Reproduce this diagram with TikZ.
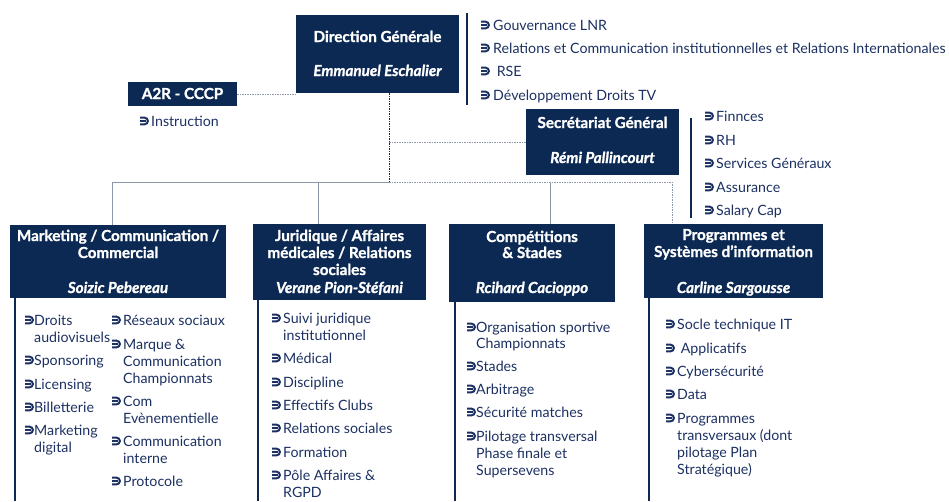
\documentclass[tikz,border=0pt]{standalone}
\usepackage{fontspec}
\setmainfont{Lato}
\newfontfamily\headfont{Lato}[FakeBold=1.2]
\definecolor{navy}{RGB}{12,41,84}
\definecolor{ink}{RGB}{28,48,98}
\definecolor{linkgray}{RGB}{140,152,170}
\tikzset{
	box/.style={fill=navy, draw=none, anchor=north west, inner sep=0pt},
	title/.style={text=white, inner sep=0pt, anchor=base, font=\headfont\fontsize{15.2}{17}\selectfont\bfseries},
	boss/.style={title, font=\headfont\fontsize{15.2}{17}\selectfont\bfseries\itshape},
	item/.style={text=ink, inner sep=0pt, anchor=base west, font=\fontsize{14.2}{16}\selectfont},
	vbar/.style={navy, line width=2.6pt},
	link/.style={linkgray, line width=0.9pt},
	dashlink/.style={link, dash pattern=on 1.5pt off 1pt},
	hook/.pic={
		\draw[ink, line width=2pt] (0,-3.3) -- (4.6,-3.3) arc[start angle=-90, end angle=90, radius=3.3] -- (0,3.3);
		\draw[ink, line width=1.8pt] (0,0) -- (5.8,0);
	}
}
\begin{document}
\begin{tikzpicture}[x=1pt,y=-1pt]
	\useasboundingbox (0,0) rectangle (949,501);
	\node[box, minimum width=163, minimum height=78] (dg) at (296,15) {};
	\node[box, minimum width=109, minimum height=24] (a2r) at (128,82) {};
	\node[box, minimum width=153, minimum height=66] (sg) at (526,109) {};
	\node[box, minimum width=216, minimum height=73] (mkt) at (10,225) {};
	\node[box, minimum width=173, minimum height=76] (jur) at (253,224) {};
	\node[box, minimum width=166, minimum height=78] (comp) at (449,224) {};
	\node[box, minimum width=179, minimum height=74] (prog) at (644,224) {};

	\node[title] (dgt) at (377.5,42) {Direction Générale};
	\node[boss] (dgn) at (377.5,76) {Emmanuel Eschalier};
	\node[title] (a2rt) at (182.5,99) {A2R - CCCP};
	\node[title] (sgt) at (602.5,128) {Secrétariat Général};
	\node[boss] (sgn) at (602.5,163) {Rémi Pallincourt};
	\node[title] (mktt) at (118,241) {Marketing / Communication /};
	\node[title] (mktu) at (118,258) {Commercial};
	\node[boss] (mktn) at (118,293) {Soizic Pebereau};
	\node[title] (jurt) at (339.5,241) {Juridique / Affaires};
	\node[title] (juru) at (339.5,258) {médicales / Relations};
	\node[title] (jurv) at (339.5,275) {sociales};
	\node[boss] (jurn) at (339.5,293) {Verane Pion-Stéfani};
	\node[title] (compt) at (532,242) {Compétitions};
	\node[title] (compu) at (532,258) {\& Stades};
	\node[boss] (compn) at (532,293) {Rcihard Cacioppo};
	\node[title] (progt) at (733.5,240) {Programmes et};
	\node[title] (progu) at (733.5,257) {Systèmes d’information};
	\node[boss] (progn) at (733.5,293) {Carline Sargousse};

	\coordinate (hub) at (389,182);
	\coordinate (tmkt) at (112,182);
	\coordinate (tjur) at (318,182);
	\coordinate (tcomp) at (550,182);
	\coordinate (tprog) at (672,182);
	\draw[dashlink, navy] (dg.south -| hub) -- (hub);
	\draw[dashlink] (a2r.east) -- (a2r.east -| dg.west);
	\draw[dashlink] (hub |- sg.west) -- (sg.west);
	\draw[link] (hub) -- (tmkt) -- (tmkt |- mkt.north);
	\draw[link] (tjur) -- (tjur |- jur.north);
	\draw[link] (tcomp) -- (tcomp |- comp.north);
	\draw[dashlink] (hub) -- (tprog) -- (tprog |- prog.north);

	\draw[vbar] (467,13) -- (467,105);
	\draw[vbar] (691,118) -- (691,218);
	\foreach \x/\y in {15/298, 258/300, 455/302, 649/298}
	\draw[vbar] (\x,\y) -- (\x,501);

	\foreach \y/\t [count=\i] in {25/Gouvernance LNR, 48/Relations et Communication institutionnelles et Relations Internationales, 71/\ RSE, 95/Développement Droits TV}
	\node[item] (dg\i) at (493,\y+5) {\t};
	\foreach \y in {25,48,71,95}
	\pic at (481,\y) {hook};

	\node[item] (a2r1) at (151,126) {Instruction};
	\pic at (140,121) {hook};

	\foreach \y/\t [count=\i] in {116/Finnces, 140/RH, 163/Services Généraux, 187/Assurance, 210/Salary Cap}
	{\node[item] (sg\i) at (716,\y+5) {\t};
	\pic at (705,\y) {hook};}

	\foreach \y/\t [count=\i] in {320/Droits, 337/audiovisuels, 360/Sponsoring, 384/Licensing, 407/Billetterie, 430/Marketing, 447/digital}
	\node[item] (mka\i) at (34,\y+5) {\t};
	\foreach \y/\t [count=\i] in {320/Réseaux sociaux, 344/Marque \&, 361/Communication, 378/Championnats, 401/Com, 418/Evènementielle, 441/Communication, 458/interne, 481/Protocole}
	\node[item, fill=white] (mkb\i) at (123,\y+5) {\t};
	\foreach \y in {320,360,384,407,430}
	\pic at (25,\y) {hook};
	\foreach \y in {320,344,401,441,481}
	\pic at (112,\y) {hook};

	\foreach \y/\t [count=\i] in {318/Suivi juridique, 335/institutionnel, 358/Médical, 382/Discipline, 405/Effectifs Clubs, 428/Relations sociales, 452/Formation, 475/Pôle Affaires \&, 492/RGPD}
	\node[item] (jur\i) at (283,\y+5) {\t};
	\foreach \y in {318,358,382,405,428,452,475}
	\pic at (272,\y) {hook};

	\foreach \y/\t [count=\i] in {327/Organisation sportive, 343/Championnats, 366/Stades, 389/Arbitrage, 412/Sécurité matches, 436/Pilotage transversal, 453/Phase finale et, 470/Supersevens}
	\node[item] (comp\i) at (476,\y+5) {\t};
	\foreach \y in {327,366,389,412,436}
	\pic at (467,\y) {hook};

	\foreach \y/\t [count=\i] in {324/Socle technique IT, 348/\ Applicatifs, 371/Cybersécurité, 394/Data, 418/Programmes, 435/transversaux (dont, 452/pilotage Plan, 469/Stratégique)}
	\node[item] (prog\i) at (677,\y+5) {\t};
	\foreach \y in {324,348,371,394,418}
	\pic at (666,\y) {hook};
\end{tikzpicture}
\end{document}
